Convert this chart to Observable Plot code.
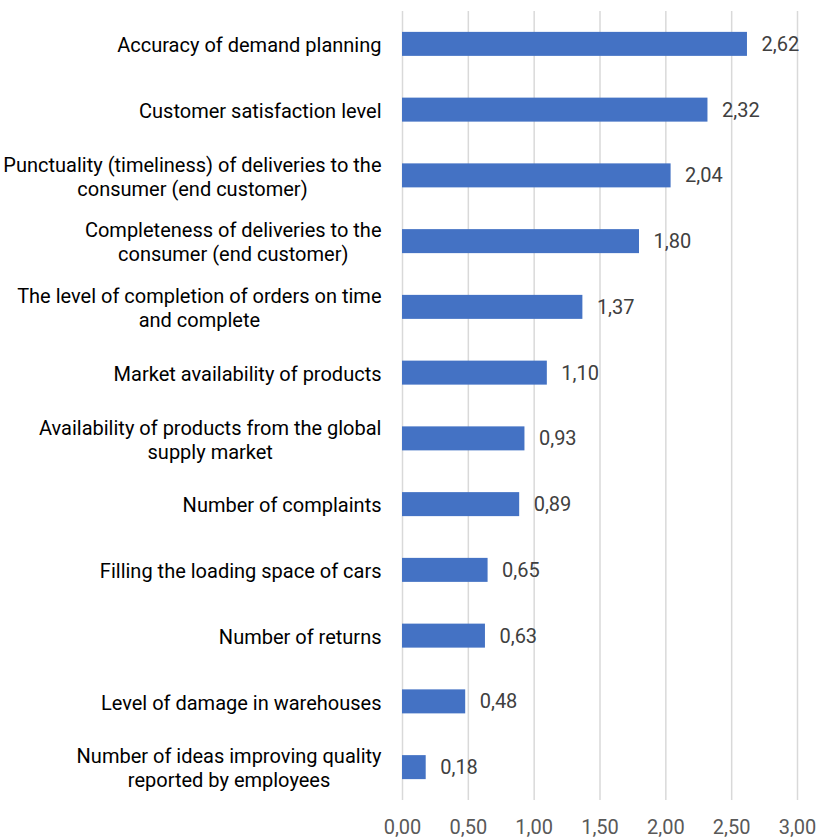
<!DOCTYPE html>
<html><head><meta charset="utf-8">
<script src="https://cdn.jsdelivr.net/npm/d3@7"></script>
<script src="https://cdn.jsdelivr.net/npm/@observablehq/plot@0.6"></script>
<style>
html,body{margin:0;padding:0;background:#fff;}
svg{display:block;}
</style>
</head><body>
<div id="chart"></div>
<script>
const categories = [
  "Accuracy of demand planning",
  "Customer satisfaction level",
  "Punctuality (timeliness) of deliveries to the\nconsumer (end customer)",
  "Completeness of deliveries to the\nconsumer (end customer)",
  "The level of completion of orders on time\nand complete",
  "Market availability of products",
  "Availability of products from the global\nsupply market",
  "Number of complaints",
  "Filling the loading space of cars",
  "Number of returns",
  "Level of damage in warehouses",
  "Number of ideas improving quality\nreported by employees"
];
const values = [2.62, 2.32, 2.04, 1.80, 1.37, 1.10, 0.93, 0.89, 0.65, 0.63, 0.48, 0.18];
const xTicks = [0, 0.5, 1, 1.5, 2, 2.5, 3];

const data = categories.map((c, i) => ({category: c, value: values[i]}));
const fmt = v => v.toFixed(2).replace(".", ",");
const FONT = "'Liberation Sans Narrow', 'Arial Narrow', 'Roboto', sans-serif";

const chart = Plot.plot({
  width: 817,
  height: 839,
  marginTop: 11,
  marginBottom: 39,
  marginLeft: 402,
  marginRight: 20,
  style: {fontFamily: FONT, fontSize: "20px", background: "#fff"},
  x: {domain: [0, 3], ticks: xTicks, tickFormat: fmt, label: null, tickSize: 0},
  y: {domain: categories, paddingInner: 0.635, paddingOuter: 0.3175, round: false, axis: null, label: null},
  marks: [
    Plot.ruleX(xTicks, {stroke: "#d9d9d9", strokeWidth: 1.5}),
    Plot.barX(data, {x: "value", y: "category", fill: "#4472C4"}),
    Plot.text(data, {x: "value", y: "category", text: d => fmt(d.value), textAnchor: "start", dx: 14, fill: "#404040", fontSize: 20}),
    Plot.text(data, {x: 0, y: "category", text: "category", textAnchor: "end", dx: -21, fill: "#000", fontSize: 20, lineHeight: 1.2, lineAnchor: "middle"}),
    Plot.axisX({ticks: xTicks, tickFormat: fmt, tickSize: 0, tickPadding: 19, fill: "#595959", fontSize: 20, label: null})
  ]
});
document.getElementById("chart").appendChild(chart);

// Center-align the lines of multi-line category labels within their right-aligned block
chart.querySelectorAll("text").forEach(t => {
  const spans = t.querySelectorAll("tspan");
  if (spans.length < 2) return;
  let w = 0;
  spans.forEach(s => { w = Math.max(w, s.getComputedTextLength()); });
  t.setAttribute("text-anchor", "middle");
  t.style.textAnchor = "middle";
  spans.forEach(s => s.setAttribute("x", -w / 2));
});
</script>
</body></html>
